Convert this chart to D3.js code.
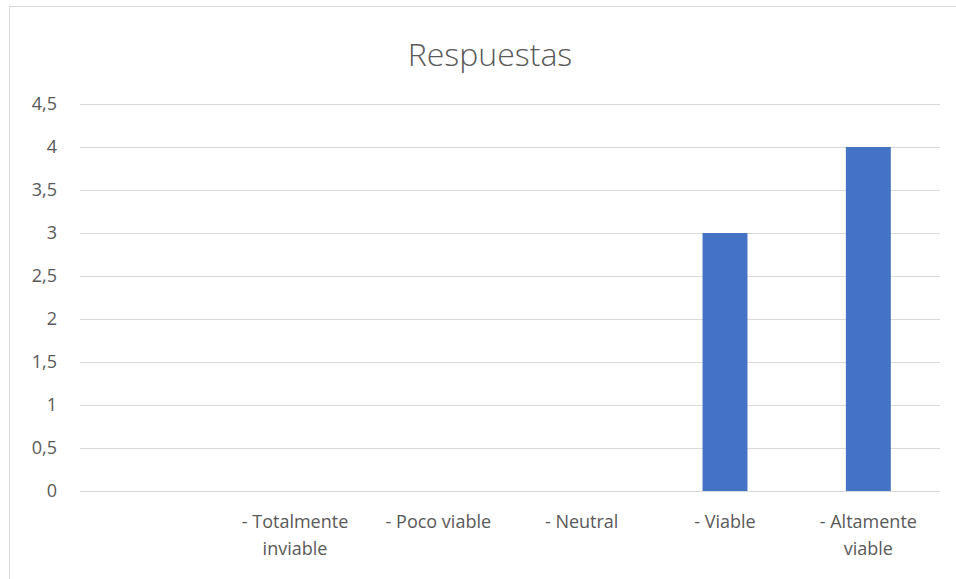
<!DOCTYPE html>
<html>
<head>
<meta charset="utf-8">
<script src="https://cdn.jsdelivr.net/npm/d3@7"></script>
<style>
  body { margin: 0; background: #fff; }
  text { font-family: "Open Sans", Lato, sans-serif; fill: #595959; }
</style>
</head>
<body>
<div id="chart"></div>
<script>
// categories (first one is blank in the original sheet)
var categories = ["", "- Totalmente inviable", "- Poco viable", "- Neutral", "- Viable", "- Altamente viable"];
var values = [0, 0, 0, 0, 3, 4];
var yTicks = [0, 0.5, 1, 1.5, 2, 2.5, 3, 3.5, 4, 4.5];
var title = "Respuestas";

var width = 956, height = 579;
var margin = { top: 104, right: 16, bottom: 88, left: 80 };

var svg = d3.select("#chart")
  .append("svg")
  .attr("width", width)
  .attr("height", height);

// chart border
svg.append("rect")
  .attr("x", 9.5)
  .attr("y", 6.5)
  .attr("width", width)
  .attr("height", height)
  .attr("fill", "none")
  .attr("stroke", "#d9d9d9")
  .attr("stroke-width", 1);

svg.append("text")
  .attr("x", 490)
  .attr("y", 66)
  .attr("text-anchor", "middle")
  .style("font-size", "32px")
  .style("font-weight", 300)
  .text(title);

var g = svg.append("g")
  .attr("transform", "translate(" + margin.left + "," + margin.top + ")");

var w = width - margin.left - margin.right,
  h = height - margin.top - margin.bottom;

var x = d3.scaleBand()
  .domain(categories)
  .range([0, w])
  .padding(0);

var y = d3.scaleLinear()
  .domain([0, 4.5])
  .range([h, 0]);

var fmt = function (d) { return String(d).replace(".", ","); };

// gridlines + y labels
var yAxis = g.append("g")
  .call(d3.axisLeft(y).tickValues(yTicks).tickFormat(fmt).tickSize(-w).tickPadding(23));
yAxis.select(".domain").remove();
yAxis.selectAll("line").attr("stroke", "#d9d9d9");
yAxis.selectAll("text")
  .style("font-size", "18px")
  .style("font-family", "'Open Sans', Lato, sans-serif")
  .attr("fill", "#595959");

// bars (Excel gap width ~219%)
var barW = x.bandwidth() / 3.19;
g.selectAll(".bar")
  .data(values)
  .enter()
  .append("rect")
  .attr("class", "bar")
  .attr("x", function (d, i) { return x(categories[i]) + (x.bandwidth() - barW) / 2; })
  .attr("y", function (d) { return y(d); })
  .attr("width", barW)
  .attr("height", function (d) { return h - y(d); })
  .attr("fill", "#4472c4");

// category labels, wrapped to the band width
var xAxis = g.append("g")
  .attr("transform", "translate(0," + h + ")")
  .call(d3.axisBottom(x).tickSize(0).tickPadding(24));
xAxis.select(".domain").remove();
xAxis.selectAll("text")
  .style("font-size", "18px")
  .style("font-family", "'Open Sans', Lato, sans-serif")
  .attr("fill", "#595959")
  .call(wrap, x.bandwidth() * 0.92);

function wrap(texts, maxW) {
  texts.each(function () {
    var t = d3.select(this);
    var words = t.text().split(/\s+/).filter(function (s) { return s.length; });
    if (!words.length) return;
    var yy = t.attr("y"), dy = parseFloat(t.attr("dy"));
    t.text(null);
    var line = [], lineNo = 0;
    var span = t.append("tspan").attr("x", 0).attr("y", yy).attr("dy", dy + "em");
    words.forEach(function (word) {
      line.push(word);
      span.text(line.join(" "));
      if (span.node().getComputedTextLength() > maxW && line.length > 1) {
        line.pop();
        span.text(line.join(" "));
        line = [word];
        lineNo++;
        span = t.append("tspan").attr("x", 0).attr("y", yy)
          .attr("dy", (dy + lineNo * 1.5) + "em").text(word);
      }
    });
  });
}
</script>
</body>
</html>
